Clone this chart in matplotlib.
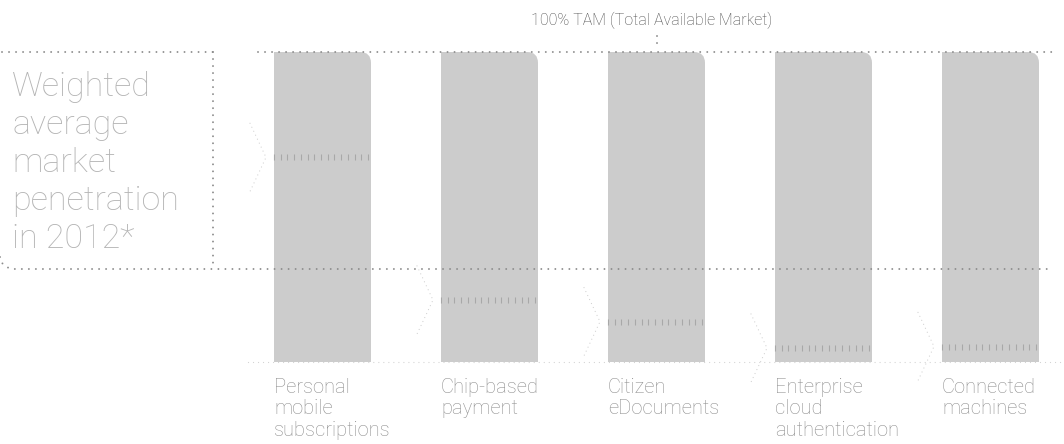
import matplotlib
matplotlib.use("Agg")
import matplotlib.pyplot as plt
from matplotlib.path import Path
from matplotlib.patches import PathPatch
import numpy as np

categories = ["Personal\nmobile\nsubscriptions", "Chip-based\npayment",
              "Citizen\neDocuments", "Enterprise\ncloud\nauthentication",
              "Connected\nmachines"]
tam = [100, 100, 100, 100, 100]
penetration = [66, 20, 13, 4.5, 5]
weighted_avg = 30

W, H = 1064, 444
fig = plt.figure(figsize=(W / 100, H / 100), dpi=100)
ax = fig.add_axes([0, 0, 1, 1])

# pixel layout: bar centres 167px apart, 100% at y=52px, 0% at y=362px
step = 167.0
x0 = 322.5
ppy = 100.0 / 310
ax.set_xlim(-x0 / step, (W - x0) / step)
ax.set_ylim(-(H - 362) * ppy, 100 + 52 * ppy)
ax.axis("off")

def px(x):
    return (x - x0) / step

def py(y):
    return (362 - y) * ppy

bw = 97 / step
rx, ry = 11 / step, 11 * ppy
bar_c = "#cccccc"
dot_c = "#8c8c8c"
faint = "#d0d0d0"

for i, (t, p) in enumerate(zip(tam, penetration)):
    l, r = i - bw / 2, i + bw / 2
    verts = [(l, 0), (r, 0), (r, t - ry), (r, t), (r - rx, t), (l, t), (l, 0)]
    codes = [Path.MOVETO, Path.LINETO, Path.LINETO, Path.CURVE3, Path.CURVE3,
             Path.LINETO, Path.CLOSEPOLY]
    ax.add_patch(PathPatch(Path(verts, codes), fc=bar_c, ec="none", zorder=1))
    # penetration marker
    xs = np.linspace(l, l + 94 / step, 15)
    ax.plot(xs, [p] * len(xs), ls="none", marker="|", ms=4.5, mew=0.8,
            color="#a8a8a8", zorder=3)
    # faint chevron pointing at the marker
    ax.plot([l - 24 / step, l - 8 / step, l - 24 / step],
            [p + 11, p, p - 11], color=faint, lw=0.9,
            ls=(0, (0.01, 3.5)), dash_capstyle="round", zorder=2)
    ax.text(l, py(378), categories[i], ha="left", va="top", fontsize=14.5,
            color="#8e8e8e", family="Roboto", weight="light", linespacing=1.15)

dots = dict(color=dot_c, lw=1.4, ls=(0, (0.01, 3.6)), dash_capstyle="round",
            zorder=4)

# 100% TAM line
ax.plot([px(2), px(215)], [100, 100], **dots)
ax.plot([px(258), px(1053)], [100, 100], **dots)
ax.plot([2, 2], [py(36), py(50)], **dots)
ax.text(px(652), py(20), "100% TAM (Total Available Market)", ha="center",
        va="center", fontsize=11.5, color="#4a4a4a", family="Roboto",
        weight="light")

# weighted average box
ax.plot([px(213), px(213)], [100, weighted_avg], **dots)
t = np.linspace(0, np.pi / 2, 8)
cx = px(15) - (px(15) - px(0)) * np.cos(t)
cy = weighted_avg + (py(257) - weighted_avg) * (1 - np.sin(t))
ax.plot(list(cx) + [px(1053)], list(cy) + [weighted_avg], **dots)
ax.text(px(12), py(71), "Weighted\naverage\nmarket\npenetration\nin 2012*",
        ha="left", va="top", fontsize=24.5, color="#b4b4b4", family="Roboto",
        weight="light", linespacing=1.24)

# baseline
ax.plot([px(248), px(1064)], [0, 0], color=faint, lw=0.9,
        ls=(0, (0.01, 4)), dash_capstyle="round", zorder=0)

fig.savefig("out.png", dpi=100)
